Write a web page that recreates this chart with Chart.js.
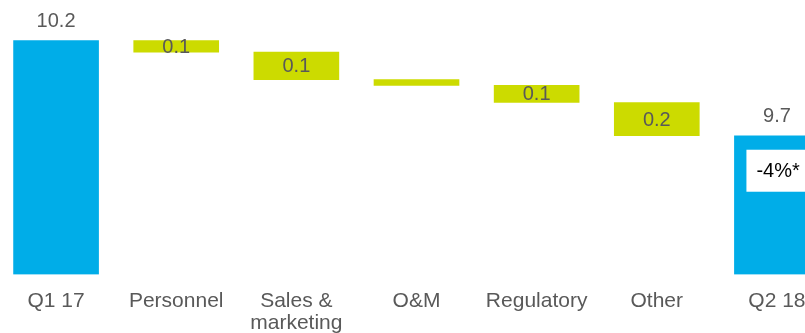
<!DOCTYPE html>
<html lang="en">
<head>
  <meta charset="UTF-8">
  <title>Cost bridge Q1 17 - Q2 18</title>
  <script src="https://cdn.jsdelivr.net/npm/chart.js"></script>
  <style>
    html, body {
      margin: 0;
      padding: 0;
      background: #fff;
      overflow: hidden;
    }

    #wrap {
      position: relative;
      left: -4px;
      width: 841px;
      height: 333px;
    }
  </style>
</head>
<body>
  <div id="wrap"><canvas id="bridge" width="841" height="333"></canvas></div>

  <script>
    // Bridge data
    const categories = ['Q1 17', 'Personnel', ['Sales &', 'marketing'], 'O&M', 'Regulatory', 'Other', 'Q2 18'];
    const startValue = 10.2;
    const endValue = 9.7;
    const decreases = [0.06, 0.145, 0.03, 0.09, 0.175];
    const changeNote = '-4%*';

    // value axis window (broken axis, not zero based)
    const axisMin = 8.97;
    const axisMax = 10.414;

    const totalColor = '#00ADE8';
    const stepColor = '#CCDB00';
    const textColor = '#595959';

    // floating bars: totals from the axis floor, steps hang from the running total
    const barData = [startValue];
    const barColors = [totalColor];
    let running = startValue;
    decreases.forEach(d => {
      barData.push([running - d, running]);
      barColors.push(stepColor);
      running -= d;
    });
    barData.push(endValue);
    barColors.push(totalColor);

    const labelPlugin = {
      id: 'barLabels',
      afterDatasetsDraw(chart) {
        const ctx = chart.ctx;
        const bars = chart.getDatasetMeta(0).data;
        ctx.save();
        ctx.font = '20px Arial';
        ctx.textAlign = 'center';
        ctx.fillStyle = textColor;

        bars.forEach((bar, i) => {
          if (i === 0 || i === bars.length - 1) {
            const v = i === 0 ? startValue : endValue;
            ctx.textBaseline = 'bottom';
            ctx.fillText(v.toFixed(1), bar.x, bar.y - 9);
          } else {
            const text = decreases[i - 1].toFixed(1);
            if (text === '0.0') return;
            ctx.textBaseline = 'middle';
            ctx.fillText(text, bar.x, (bar.y + bar.base) / 2 + 1);
          }
        });

        // change badge inside the closing bar
        const last = bars[bars.length - 1];
        const left = last.x - last.width / 2 + 12;
        const top = last.y + 14;
        ctx.fillStyle = '#fff';
        ctx.fillRect(left, top, last.width - 24, 42);
        ctx.fillStyle = '#000';
        ctx.textAlign = 'left';
        ctx.textBaseline = 'middle';
        ctx.fillText(changeNote, left + 10, top + 22);
        ctx.restore();
      }
    };

    new Chart(document.getElementById('bridge'), {
      type: 'bar',
      data: {
        labels: categories,
        datasets: [{
          data: barData,
          base: axisMin,
          backgroundColor: barColors,
          borderWidth: 0,
          barThickness: 85
        }]
      },
      options: {
        responsive: false,
        animation: false,
        layout: { padding: 0 },
        plugins: {
          legend: { display: false },
          tooltip: { enabled: false }
        },
        scales: {
          x: {
            grid: { display: false },
            border: { display: false },
            ticks: {
              color: textColor,
              font: { family: 'Arial', size: 21, lineHeight: 1.07 },
              padding: 7,
              maxRotation: 0,
              autoSkip: false
            },
            afterFit(axis) { axis.height = 58.5; }
          },
          y: {
            display: false,
            min: axisMin,
            max: axisMax
          }
        }
      },
      plugins: [labelPlugin]
    });
  </script>
</body>
</html>
